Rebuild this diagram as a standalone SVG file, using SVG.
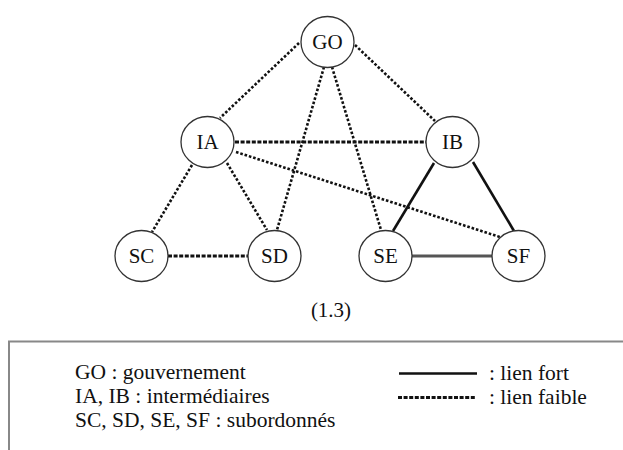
<svg xmlns="http://www.w3.org/2000/svg" width="623" height="450" viewBox="0 0 623 450">
  <style>
    text { font-family: 'Liberation Serif', 'DejaVu Serif', serif; fill: #111; }
    .node ellipse { fill: #fff; stroke: #333; stroke-width: 1.3; }
    .node text { font-size: 21px; text-anchor: middle; }
    .weak { stroke: #111; stroke-width: 2.6; stroke-dasharray: 2.6 1.9; fill: none; }
    .weak-h { stroke: #111; stroke-width: 2.8; stroke-dasharray: 4 1.6; fill: none; }
    .strong { stroke: #111; stroke-width: 2.6; fill: none; }
    .strong-g { stroke: #555; stroke-width: 3.2; fill: none; }
    .legend text { font-size: 21.5px; }
  </style>

  <!-- links between actors -->
  <g id="connectors">
    <line class="weak" x1="299" y1="43" x2="220" y2="118"/>
    <line class="weak" x1="355" y1="45" x2="435" y2="121"/>
    <line class="weak" x1="324" y1="67" x2="277" y2="230"/>
    <line class="weak" x1="332" y1="67" x2="381" y2="230"/>
    <line class="weak-h" x1="235" y1="142" x2="427" y2="142"/>
    <line class="weak" x1="236" y1="152" x2="500" y2="237"/>
    <line class="weak" x1="192" y1="165" x2="152" y2="232"/>
    <line class="weak" x1="227" y1="163" x2="267" y2="230"/>
    <line class="weak-h" x1="168" y1="256" x2="248" y2="256"/>
    <line class="strong" x1="434" y1="163" x2="393" y2="231"/>
    <line class="strong" x1="473" y1="162" x2="514" y2="231"/>
    <line class="strong-g" x1="412" y1="256" x2="492" y2="256"/>
  </g>

  <g id="GO" class="node">
    <ellipse cx="327.5" cy="42" rx="26.5" ry="25.5"/>
    <text x="327.5" y="49">GO</text>
  </g>
  <g id="IA" class="node">
    <ellipse cx="207.5" cy="142" rx="26.5" ry="25.5"/>
    <text x="207.5" y="149">IA</text>
  </g>
  <g id="IB" class="node">
    <ellipse cx="452.5" cy="142" rx="26.5" ry="25.5"/>
    <text x="452.5" y="149">IB</text>
  </g>
  <g id="SC" class="node">
    <ellipse cx="141.5" cy="256" rx="26.5" ry="25.5"/>
    <text x="141.5" y="263">SC</text>
  </g>
  <g id="SD" class="node">
    <ellipse cx="274.5" cy="256" rx="26.5" ry="25.5"/>
    <text x="274.5" y="263">SD</text>
  </g>
  <g id="SE" class="node">
    <ellipse cx="385.5" cy="256" rx="26.5" ry="25.5"/>
    <text x="385.5" y="263">SE</text>
  </g>
  <g id="SF" class="node">
    <ellipse cx="518.5" cy="256" rx="26.5" ry="25.5"/>
    <text x="518.5" y="263">SF</text>
  </g>

  <text x="331" y="317" font-size="21" text-anchor="middle">(1.3)</text>

  <!-- legend box, open to the right and bottom -->
  <g id="legend" class="legend">
    <path d="M9 451 V341.5 H624" fill="none" stroke="#888" stroke-width="2"/>
    <text x="75" y="379">GO : gouvernement</text>
    <text x="75" y="403">IA, IB : intermédiaires</text>
    <text x="75" y="427">SC, SD, SE, SF : subordonnés</text>
    <line class="strong" x1="399" y1="373.5" x2="477" y2="373.5" stroke-width="3"/>
    <line class="weak-h" x1="398" y1="397.5" x2="475" y2="397.5"/>
    <text x="489" y="380">: lien fort</text>
    <text x="489" y="404">: lien faible</text>
  </g>
</svg>
